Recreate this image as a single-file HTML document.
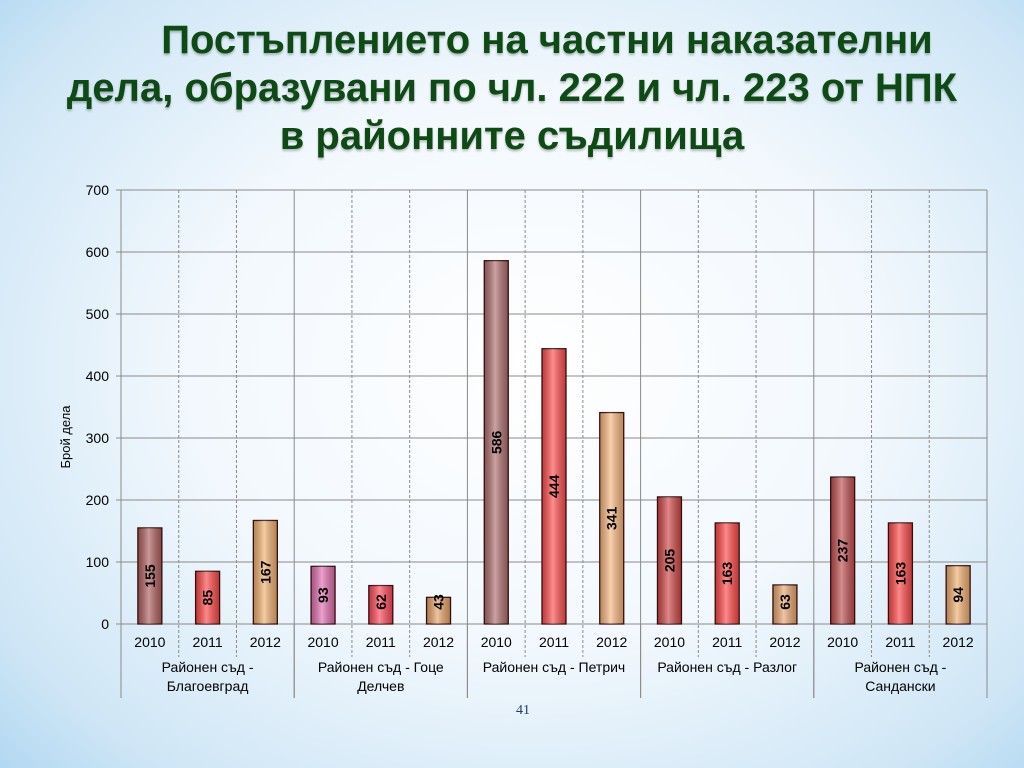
<!DOCTYPE html>
<html><head><meta charset="utf-8">
<style>
html,body{margin:0;padding:0;width:1024px;height:768px;overflow:hidden}
body{background:radial-gradient(ellipse 75% 80% at 52% 48%,#ffffff 0%,#f2f8fd 45%,#cfe6f6 80%,#a9d3f0 100%);font-family:"Liberation Sans",sans-serif;position:relative}
.title{position:absolute;left:0;width:1024px;text-align:center;font-family:"Liberation Sans Narrow","Liberation Sans",sans-serif;font-weight:bold;font-size:40px;color:#0d4a14;line-height:48px;text-shadow:0 2px 2px rgba(0,0,0,0.25)}
</style></head><body>
<div class="title" style="top:16px">
<div style="padding-left:70px">Постъплението на частни наказателни</div>
<div>дела, образувани по чл. 222 и чл. 223 от НПК</div>
<div>в районните съдилища</div>
</div>
<svg id="chart" width="1024" height="768" style="position:absolute;left:0;top:0">
<defs>
<linearGradient id="gShade" x1="0" x2="1" y1="0" y2="0">
<stop offset="0" stop-color="#000" stop-opacity="0.25"/>
<stop offset="0.45" stop-color="#fff" stop-opacity="0.35"/>
<stop offset="1" stop-color="#000" stop-opacity="0.25"/>
</linearGradient>
</defs>
</svg>
<div style="position:absolute;left:516px;top:703px;font-family:'Liberation Serif',serif;font-size:14px;color:#1f3a7a">41</div>
<script>
const years=["2010","2011","2012","2010","2011","2012","2010","2011","2012","2010","2011","2012","2010","2011","2012"];
const values=[155,85,167,93,62,43,586,444,341,205,163,63,237,163,94];
const colors=["#b06060","#ff4a4a","#f0b070","#e070b0","#ff4a5a","#e8a468","#b07070","#ff5050","#f8b880","#d04848","#ff4a4a","#e8a870","#c05050","#ff4a4a","#f0b070"];
const groups=["Районен съд -|Благоевград","Районен съд - Гоце|Делчев","Районен съд - Петрич","Районен съд - Разлог","Районен съд -|Сандански"];
const yTicks=[0,100,200,300,400,500,600,700];
const svg=document.getElementById('chart');
const NS='http://www.w3.org/2000/svg';
const X0=121,X1=987,Y0=624,Y1=190,YMAX=700;
const colW=(X1-X0)/values.length;
const y=v=>Y0-(v/YMAX)*(Y0-Y1);
const xc=i=>X0+colW*(i+0.5);
function mk(t,a){const e=document.createElementNS(NS,t);for(const k in a)e.setAttribute(k,a[k]);svg.appendChild(e);return e;}
yTicks.forEach(t=>{
  const l=mk('line',{x1:X0-5,x2:X1,y1:y(t),y2:y(t),stroke:'#8a8a8a','stroke-width':1});
  
  
  const tx=mk('text',{x:X0-12,y:y(t)+5,'text-anchor':'end','font-size':14,fill:'#000'});
  tx.textContent=t;
  
  
});
for(let i=1;i<=values.length;i++){
  const x=X0+colW*i;
  const isGroup=i%3===0;
  const l=mk('line',{x1:x,x2:x,y1:Y1,y2:isGroup?698:657,stroke:'#8a8a8a','stroke-width':1,'stroke-dasharray':isGroup?'':'3,2'});
  
  
  if(isGroup&&i<values.length){mk('line',{x1:x,x2:x,y1:Y0,y2:698,stroke:'#8a8a8a'});}
}
mk('line',{x1:X0,x2:X0,y1:Y1,y2:698,stroke:'#8a8a8a'});
const bw=24;
values.forEach((v,i)=>{
  const r=mk('rect',{x:xc(i)-bw/2,y:y(v),width:bw,height:Y0-y(v),fill:colors[i],stroke:'#3a1010','stroke-width':1.3});
  
  
  mk('rect',{x:xc(i)-bw/2,y:y(v),width:bw,height:Y0-y(v),fill:'url(#gShade)'});
  const cy=Math.min((y(v)+Y0)/2,Y0-22);
  const t=mk('text',{x:xc(i)+5,y:cy,'text-anchor':'middle','font-size':14,'font-weight':'bold',fill:'#000',transform:`rotate(-90 ${xc(i)+5} ${cy})`});
  t.textContent=v;
  
  
  const yl=mk('text',{x:xc(i),y:647,'text-anchor':'middle','font-size':14,fill:'#000'});
  yl.textContent=years[i];
  
  
});
groups.forEach((g,gi)=>{
  const cx=X0+colW*(gi*3+1.5);
  g.split('|').forEach((line,li)=>{
    const t=mk('text',{x:cx,y:672+li*19,'text-anchor':'middle','font-size':14,fill:'#000'});
    t.textContent=line;
    
    
  });
});
const at=mk('text',{x:70,y:437,'text-anchor':'middle','font-size':13,fill:'#000',transform:'rotate(-90 70 437)'});
at.textContent='Брой дела';


</script>
</body></html>
